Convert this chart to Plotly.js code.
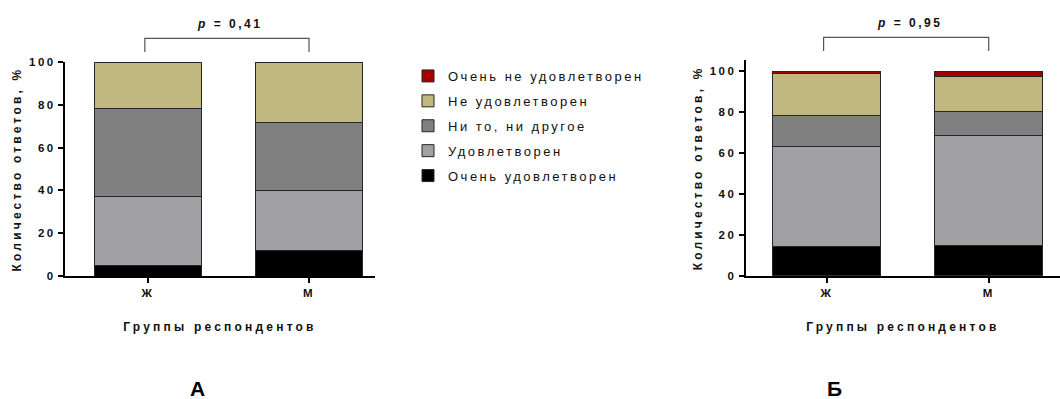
<!DOCTYPE html>
<html>
<head>
<meta charset="utf-8">
<script src="https://cdn.plot.ly/plotly-3.0.1.min.js"></script>
<style>
  html, body { margin: 0; padding: 0; background: #fff; }
  #plot { width: 1060px; height: 399px; }
  svg text { letter-spacing: 2.5px; }
  svg text[class*="title"] { letter-spacing: 3.2px; }
  svg text.legendtext { letter-spacing: 2.5px; }
</style>
</head>
<body>
<div id="plot"></div>
<script>
// Data (percent of answers)
const groups = ['Ж', 'М'];
const seriesNames = ['Очень удовлетворен', 'Удовлетворен', 'Ни то, ни другое', 'Не удовлетворен', 'Очень не удовлетворен'];
const seriesColors = ['#000000', '#a1a0a5', '#808080', '#c0b880', '#a80000'];
// Panel A
const aVeryGood = [5.1, 11.8];
const aGood     = [32.1, 28.2];
const aNeutral  = [41.1, 31.6];
const aBad      = [21.7, 28.4];
const aVeryBad  = [0, 0];
// Panel B
const bVeryGood = [14.2, 14.7];
const bGood     = [48.7, 53.9];
const bNeutral  = [15.3, 11.5];
const bBad      = [20.7, 17.1];
const bVeryBad  = [1.1, 2.8];
const pA = 'p = 0,41';
const pB = 'p = 0,95';
const yTicks = [0, 20, 40, 60, 80, 100];

const A = [aVeryGood, aGood, aNeutral, aBad, aVeryBad];
const B = [bVeryGood, bGood, bNeutral, bBad, bVeryBad];

const traces = [];
A.forEach((vals, i) => {
  traces.push({
    type: 'bar', x: groups, y: vals, name: seriesNames[i],
    xaxis: 'x', yaxis: 'y', width: 0.665, showlegend: false,
    marker: { color: seriesColors[i], line: { color: '#262626', width: 1 } },
    hoverinfo: 'skip'
  });
});
B.forEach((vals, i) => {
  traces.push({
    type: 'bar', x: groups, y: vals, name: seriesNames[i],
    xaxis: 'x2', yaxis: 'y2', width: 0.667, showlegend: true,
    legendgroup: 'g' + i, legendrank: 100 - i,
    marker: { color: seriesColors[i], line: { color: '#262626', width: 1 } },
    hoverinfo: 'skip'
  });
});

const FAM = 'Liberation Sans, Arial, sans-serif';
const tickFont = { family: FAM, size: 11.5, color: '#111' };
const titleFont = { family: FAM, size: 12, color: '#111' };

function xAx(domain, range, anchor) {
  return {
    domain: domain, anchor: anchor, type: 'category', range: range,
    tickmode: 'array', tickvals: groups, ticktext: groups.map(g => '<b>' + g + '</b>'),
    showline: true, linecolor: '#000', linewidth: 2,
    ticks: 'outside', ticklen: 5, tickwidth: 2, tickcolor: '#000',
    showgrid: false, zeroline: false, fixedrange: true,
    tickfont: tickFont,
    title: { text: '<b>Группы респондентов</b>', font: titleFont, standoff: 25 }
  };
}
function yAx(domain, range, anchor) {
  return {
    domain: domain, anchor: anchor, range: range,
    tickmode: 'array', tickvals: yTicks, ticktext: yTicks.map(v => '<b>' + v + '</b>'),
    showline: true, linecolor: '#000', linewidth: 2,
    ticks: 'outside', ticklen: 5, tickwidth: 2, tickcolor: '#000',
    showgrid: false, zeroline: false, fixedrange: true,
    tickfont: tickFont,
    title: { text: '<b>Количество ответов, %</b>', font: titleFont, standoff: 5 }
  };
}

const H = 399;
const layout = {
  width: 1060, height: 399,
  margin: { l: 0, r: 0, t: 0, b: 0 },
  paper_bgcolor: '#fff', plot_bgcolor: '#fff',
  barmode: 'stack', bargap: 0.33,
  font: { family: FAM, color: '#111' },
  xaxis: xAx([65 / 1060, 375 / 1060], [-0.516, 1.41], 'y'),
  yaxis: yAx([1 - 276 / H, 1 - 62 / H], [0, 100], 'x'),
  xaxis2: xAx([745.7 / 1060, 1], [-0.501, 1.44], 'y2'),
  yaxis2: yAx([1 - 275.7 / H, 1 - 60 / H], [0, 105.4], 'x2'),
  legend: {
    x: 408 / 1060, y: 1 - 61 / H, xanchor: 'left', yanchor: 'top',
    traceorder: 'grouped', tracegroupgap: 5,
    font: { family: FAM, size: 13, color: '#111' },
    bgcolor: 'rgba(0,0,0,0)'
  },
  shapes: [
    { type: 'path', xref: 'x', yref: 'paper',
      path: 'M -0.02,' + (1 - 52 / H) + ' L -0.02,' + (1 - 38.3 / H) + ' L 1.0,' + (1 - 38.3 / H) + ' L 1.0,' + (1 - 52 / H),
      line: { color: '#555', width: 1.2 } },
    { type: 'path', xref: 'x2', yref: 'paper',
      path: 'M -0.02,' + (1 - 51 / H) + ' L -0.02,' + (1 - 37.3 / H) + ' L 1.0,' + (1 - 37.3 / H) + ' L 1.0,' + (1 - 51 / H),
      line: { color: '#555', width: 1.2 } }
  ],
  annotations: [
    { xref: 'paper', yref: 'paper', x: 229 / 1060, y: 1 - 24 / H, showarrow: false,
      text: '<b><i>p</i> = 0,41</b>', font: { family: FAM, size: 12, color: '#111' }, xanchor: 'center', yanchor: 'middle' },
    { xref: 'paper', yref: 'paper', x: 909 / 1060, y: 1 - 23 / H, showarrow: false,
      text: '<b><i>p</i> = 0,95</b>', font: { family: FAM, size: 12, color: '#111' }, xanchor: 'center', yanchor: 'middle' },
    { xref: 'paper', yref: 'paper', x: 199 / 1060, y: 1 - 388 / H, showarrow: false,
      text: '<b>А</b>', font: { family: FAM, size: 21, color: '#000' }, xanchor: 'center', yanchor: 'middle' },
    { xref: 'paper', yref: 'paper', x: 836 / 1060, y: 1 - 388 / H, showarrow: false,
      text: '<b>Б</b>', font: { family: FAM, size: 21, color: '#000' }, xanchor: 'center', yanchor: 'middle' }
  ]
};

Plotly.newPlot('plot', traces, layout, { displayModeBar: false, staticPlot: true });
</script>
</body>
</html>
